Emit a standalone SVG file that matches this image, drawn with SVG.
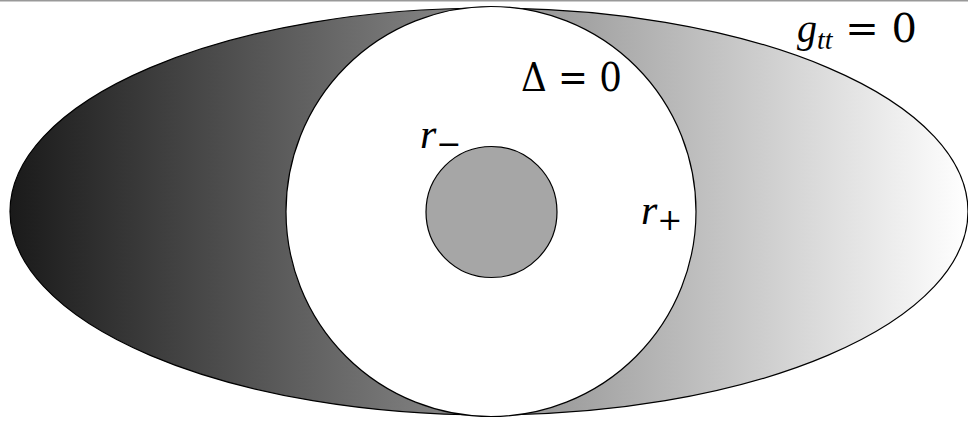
<svg xmlns="http://www.w3.org/2000/svg" width="968" height="421" viewBox="0 0 968 421">
<defs>
<linearGradient id="g" x1="10" y1="0" x2="968" y2="0" gradientUnits="userSpaceOnUse">
<stop offset="0" stop-color="#1a1a1a"/>
<stop offset="1" stop-color="#ffffff"/>
</linearGradient>
<style>
.t{font-family:"DejaVu Serif","Liberation Serif",serif;fill:#000}
.i{font-style:italic;font-family:"Liberation Serif",serif}
.s{stroke:#000;stroke-width:1.2}
</style>
</defs>
<rect x="0" y="0" width="968" height="421" fill="#fff"/>
<line x1="0" y1="0.5" x2="968" y2="0.5" stroke="#999" stroke-width="2"/>
<g id="horizon-gtt"><ellipse cx="489" cy="211.5" rx="479" ry="203.5" fill="url(#g)" class="s"/></g>
<g id="outer-horizon"><circle cx="491" cy="211.5" r="205" fill="#fff" class="s"/></g>
<g id="inner-horizon"><circle cx="491.5" cy="212" r="65.5" fill="#a6a6a6" class="s"/></g>
<g id="labels">
<text class="t" x="521" y="91" font-size="40" textLength="101" lengthAdjust="spacingAndGlyphs">Δ = 0</text>
<text class="t" x="797" y="42" font-size="40"><tspan class="i">g</tspan><tspan class="i" font-size="28" dy="7">tt</tspan><tspan dy="-7"> = 0</tspan></text>
<text class="t" x="420" y="148" font-size="42"><tspan class="i">r</tspan><tspan font-size="30" dy="6">−</tspan></text>
<text class="t" x="641" y="224" font-size="42"><tspan class="i">r</tspan><tspan font-size="30" dy="6">+</tspan></text>
</g>
</svg>
